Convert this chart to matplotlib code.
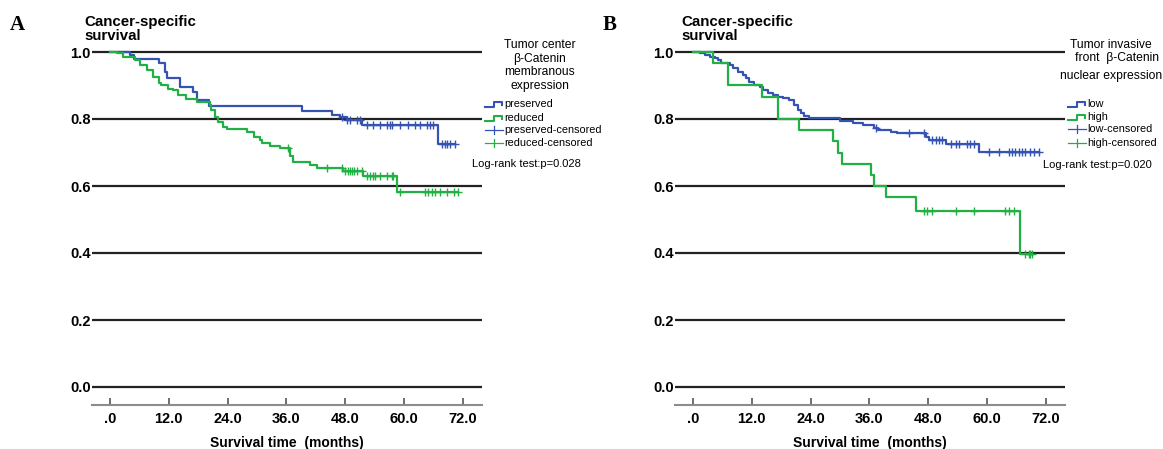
import numpy as np
import matplotlib
matplotlib.use("Agg")
import matplotlib.pyplot as plt
from matplotlib.lines import Line2D

plt.rcParams['font.family'] = ['Liberation Sans', 'DejaVu Sans']

# ---- data (months, survival) ----
# panel A: tumor center beta-catenin membranous expression
a_pres_t = [0, 4.1, 4.8, 9.9, 11.2, 11.6, 14.3, 17.0, 17.7, 20.1, 39.1, 45.2, 46.9, 48.3, 51.4, 67.0]
a_pres_s = [1.0, 0.991, 0.979, 0.966, 0.941, 0.921, 0.896, 0.881, 0.857, 0.839, 0.825, 0.812, 0.805, 0.797, 0.782, 0.725]
a_pres_cens = [47.3, 48.3, 49.0, 50.3, 51.0, 52.4, 53.7, 55.1, 56.5, 57.1, 57.5, 59.2, 60.9, 62.2,
               63.3, 64.6, 65.3, 66.0, 67.7, 68.4, 68.7, 69.4, 70.4]

a_red_t = [0, 1.4, 2.7, 5.1, 6.1, 7.5, 8.8, 9.9, 10.5, 11.9, 12.9, 13.9, 15.6, 17.7, 20.4, 20.7, 21.4,
           22.1, 23.1, 23.8, 27.9, 29.3, 30.6, 31.0, 32.7, 34.7, 36.7, 37.4, 40.8, 42.2, 47.6, 51.7, 58.5]
a_red_s = [1.0, 0.996, 0.986, 0.976, 0.961, 0.946, 0.926, 0.906, 0.901, 0.891, 0.886, 0.871, 0.861, 0.852,
           0.842, 0.827, 0.807, 0.792, 0.777, 0.769, 0.760, 0.747, 0.737, 0.727, 0.720, 0.712, 0.690,
           0.673, 0.663, 0.655, 0.645, 0.630, 0.583]
a_red_cens = [36.4, 44.3, 47.3, 48.0, 48.6, 49.0, 49.3, 49.7, 50.3, 51.4, 52.4, 53.1, 53.7, 54.1, 55.1,
              56.5, 57.5, 57.8, 59.2, 64.3, 64.9, 65.6, 66.3, 67.3, 68.7, 70.1, 71.1]

# panel B: invasive front beta-catenin nuclear expression
b_low_t = [0, 1.4, 2.4, 3.5, 4.5, 5.2, 5.8, 7.5, 8.1, 9.1, 10.2, 10.8, 11.5, 12.5, 13.6, 14.2, 15.3, 16.3,
           17.3, 18.3, 19.6, 20.7, 21.4, 22.0, 22.7, 23.7, 29.9, 32.6, 34.6, 37.0, 37.7, 40.4, 41.7,
           47.5, 48.2, 51.6, 58.3]
b_low_s = [1.0, 0.996, 0.991, 0.986, 0.983, 0.976, 0.966, 0.961, 0.951, 0.941, 0.931, 0.921, 0.911, 0.901,
           0.896, 0.886, 0.877, 0.872, 0.867, 0.862, 0.857, 0.842, 0.827, 0.817, 0.810, 0.802, 0.795,
           0.789, 0.782, 0.772, 0.767, 0.762, 0.757, 0.747, 0.737, 0.725, 0.702]
b_low_cens = [37.3, 44.1, 47.2, 48.8, 49.5, 50.2, 50.9, 52.6, 53.6, 54.3, 55.9, 56.6, 57.3, 60.4, 62.4,
              64.5, 65.1, 65.8, 66.5, 67.1, 67.8, 68.8, 69.5, 70.5]

b_high_t = [0, 4.1, 7.2, 14.0, 17.3, 21.7, 28.5, 29.5, 30.5, 36.3, 37.0, 39.4, 45.5, 66.8]
b_high_s = [1.0, 0.966, 0.901, 0.867, 0.801, 0.767, 0.733, 0.700, 0.667, 0.633, 0.600, 0.567, 0.525, 0.398]
b_high_cens = [47.2, 47.8, 48.8, 53.6, 57.3, 63.7, 64.4, 65.4, 67.8, 68.5, 68.8, 69.1]

y_ticks = [0.0, 0.2, 0.4, 0.6, 0.8, 1.0]
y_labels = ["0.0", "0.2", "0.4", "0.6", "0.8", "1.0"]
x_ticks = [0, 12, 24, 36, 48, 60, 72]
x_labels = [".0", "12.0", "24.0", "36.0", "48.0", "60.0", "72.0"]

BLUE = "#3553b3"
GREEN = "#22b045"
W, H = 1163, 449


def px(x, y):
    return x / W, 1 - y / H


def surv_at(t, s, times):
    idx = np.searchsorted(t, times, side="right") - 1
    return np.array(s)[idx]


def km_curve(ax, t, s, cens, color):
    end = max(cens[-1], t[-1])
    ax.step(list(t) + [end], list(s) + [s[-1]], where="post", color=color, lw=1.6, zorder=3)
    ax.plot(cens, surv_at(t, s, cens), ls="none", marker="+", ms=6, mew=1.0, color=color, zorder=4)


def panel(left):
    ax = fig.add_axes([left / W, (H - 405) / H, 390 / W, 360 / H])
    ax.set_xlim(-3.67, 75.9)
    ax.set_ylim(-18 / 335, 1 + 7 / 335)
    for v in y_ticks:
        ax.axhline(v, color="#222222", lw=1.6, zorder=1)
    for sp in ["top", "right", "left"]:
        ax.spines[sp].set_visible(False)
    ax.spines["bottom"].set_color("#8c8c8c")
    ax.spines["bottom"].set_linewidth(1.5)
    ax.set_xticks(x_ticks)
    ax.set_xticklabels(x_labels, fontweight="bold")
    ax.set_yticks(y_ticks)
    ax.set_yticklabels(y_labels, fontweight="bold")
    ax.tick_params(axis="x", direction="in", length=5, width=1.2, color="#555555", pad=5, labelsize=10.5)
    ax.tick_params(axis="y", length=0, pad=1, labelsize=10.5)
    ax.set_xlabel("Survival time  (months)", fontweight="bold", fontsize=10, labelpad=7)
    ax.patch.set_alpha(0)
    return ax


def legend_entry(x, y, color, label, censored):
    if censored:
        xs = [x, x + 18]
        ys = [y, y]
        fig.add_artist(Line2D([px(a, 0)[0] for a in xs], [px(0, b)[1] for b in ys], color=color, lw=0.9))
        fig.add_artist(Line2D([px(x + 9, 0)[0]] * 2, [px(0, y - 4)[1], px(0, y + 4)[1]], color=color, lw=0.9))
    else:
        xs = [x, x + 9, x + 9, x + 17, x + 17]
        ys = [y + 3, y + 3, y - 2, y - 2, y + 1]
        fig.add_artist(Line2D([px(a, 0)[0] for a in xs], [px(0, b)[1] for b in ys], color=color, lw=1.5))
    fig.text(*px(x + 19, y), label, fontsize=7.8, va="center", ha="left")


fig = plt.figure(figsize=(W / 100, H / 100), dpi=100)

# panel A
ax_a = panel(92)
km_curve(ax_a, a_pres_t, a_pres_s, a_pres_cens, BLUE)
km_curve(ax_a, a_red_t, a_red_s, a_red_cens, GREEN)
fig.text(*px(10, 25), "A", family="Liberation Serif", fontweight="bold", fontsize=15, va="center")
fig.text(*px(84, 15), "Cancer-specific\nsurvival", fontweight="bold", fontsize=10.8, va="top", linespacing=1.02)
for txt, yy in zip(["Tumor center", "\u03b2-Catenin", "membranous", "expression"], [45, 59, 72, 86]):
    fig.text(*px(540, yy), txt, fontsize=8.7, ha="center", va="center")
legend_entry(485, 104, BLUE, "preserved", False)
legend_entry(485, 118, GREEN, "reduced", False)
legend_entry(485, 130, BLUE, "preserved-censored", True)
legend_entry(485, 143, GREEN, "reduced-censored", True)
fig.text(*px(472, 164), "Log-rank test:p=0.028", fontsize=8, va="center")

# panel B
ax_b = panel(675)
km_curve(ax_b, b_low_t, b_low_s, b_low_cens, BLUE)
km_curve(ax_b, b_high_t, b_high_s, b_high_cens, GREEN)
fig.text(*px(603, 25), "B", family="Liberation Serif", fontweight="bold", fontsize=15, va="center")
fig.text(*px(681, 15), "Cancer-specific\nsurvival", fontweight="bold", fontsize=10.8, va="top", linespacing=1.02)
fig.text(*px(1070, 45), "Tumor invasive", fontsize=8.7, va="center")
fig.text(*px(1075, 58), "front  \u03b2-Catenin", fontsize=8.7, va="center")
fig.text(*px(1060, 76), "nuclear expression", fontsize=8.7, va="center")
legend_entry(1068, 104, BLUE, "low", False)
legend_entry(1068, 117, GREEN, "high", False)
legend_entry(1068, 129, BLUE, "low-censored", True)
legend_entry(1068, 143, GREEN, "high-censored", True)
fig.text(*px(1043, 165), "Log-rank test:p=0.020", fontsize=8, va="center")

plt.savefig("out.png", dpi=100)
